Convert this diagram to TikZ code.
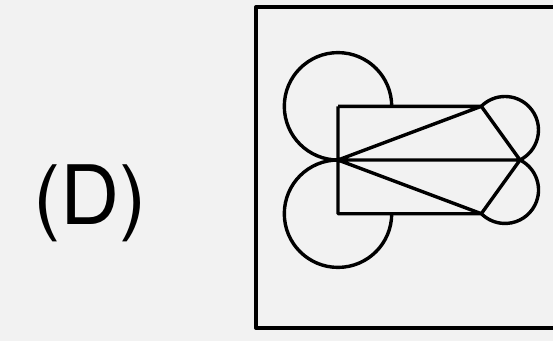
\documentclass[tikz,border=0pt]{standalone}
\usepackage{fontspec}
\setmainfont{TeX Gyre Heros}
\begin{document}
\begin{tikzpicture}[x=1pt,y=1pt,line join=round]
  \def\R{53.7}\def\r{33.5}
  \fill[black!5] (0,0) rectangle (553,341);
  \useasboundingbox (0,0) rectangle (553,341);
  \draw[line width=4pt] (553,334)--(256,334)--(256,13)--(553,13);
  \coordinate (V) at (338,181);
  \coordinate (W) at (520,181);
  \coordinate (T) at (481.3,234.7);
  \coordinate (B) at (481.3,127.3);
  \begin{scope}[line width=3.4pt]
    \draw (338+\R,234.7) arc[start angle=0,end angle=270,radius=\R];
    \draw (V) arc[start angle=90,end angle=360,radius=\R];
    \draw (V|-T)--(T)--(W)--(V)--(T) (V|-T)--(V|-B)--(B)--(W) (V)--(B);
    \draw (T) arc[start angle=135,end angle=-63.43,radius=\r];
    \draw (W) arc[start angle=63.43,end angle=-135,radius=\r];
  \end{scope}
  \node[font=\fontsize{82}{88}\selectfont] (lbl) at (90,138) {(D)};
\end{tikzpicture}
\end{document}
